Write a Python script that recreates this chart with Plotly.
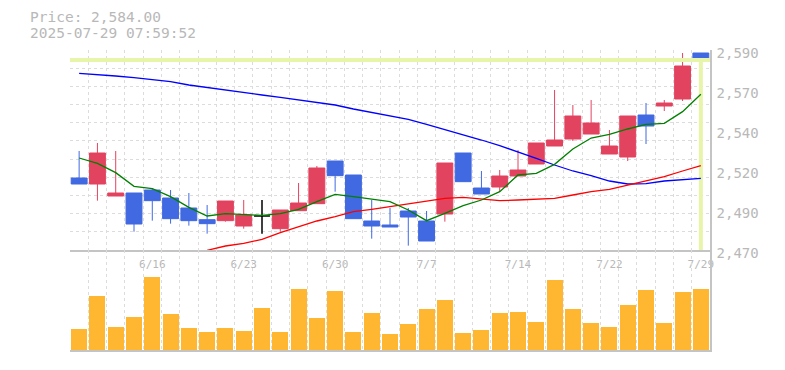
import plotly.graph_objects as go

# ---------------- data ----------------
dates = ["6/10", "6/11", "6/12", "6/13",
         "6/16", "6/17", "6/18", "6/19", "6/20",
         "6/23", "6/24", "6/25", "6/26", "6/27",
         "6/30", "7/1", "7/2", "7/3", "7/4",
         "7/7", "7/8", "7/9", "7/10", "7/11",
         "7/14", "7/15", "7/16", "7/17", "7/18",
         "7/22", "7/23", "7/24", "7/25",
         "7/28", "7/29"]

open_ = [2513.2, 2509.6, 2502.4, 2504.2, 2506.0, 2501.2, 2495.2, 2488.2, 2487.6, 2484.4,
         2490.4, 2482.8, 2493.6, 2497.8, 2523.4, 2515.0, 2487.4, 2485.0, 2493.4, 2487.4,
         2491.6, 2528.2, 2507.2, 2507.8, 2514.4, 2521.6, 2532.4, 2536.6, 2539.6, 2527.6,
         2525.8, 2551.0, 2556.4, 2560.6, 2588.2]
high = [2529.4, 2534.2, 2529.4, 2504.2, 2507.0, 2506.0, 2504.2, 2497.0, 2499.4, 2500.0,
        2500.0, 2494.0, 2510.2, 2520.4, 2523.4, 2515.0, 2500.0, 2495.2, 2495.2, 2493.4,
        2522.2, 2528.2, 2517.4, 2518.0, 2530.0, 2534.2, 2566.0, 2557.0, 2560.0, 2542.0,
        2550.4, 2558.2, 2560.0, 2588.2, 2588.2]
low = [2509.6, 2499.6, 2502.4, 2481.0, 2487.6, 2485.8, 2484.6, 2479.8, 2487.0, 2482.8,
       2479.8, 2481.0, 2493.6, 2497.8, 2505.0, 2488.8, 2476.8, 2483.8, 2472.6, 2475.4,
       2487.0, 2511.0, 2503.6, 2505.0, 2514.4, 2521.6, 2532.4, 2535.4, 2539.6, 2527.6,
       2523.4, 2533.6, 2553.4, 2559.4, 2567.8]
close = [2509.6, 2528.2, 2504.2, 2485.6, 2499.6, 2488.8, 2487.6, 2485.8, 2499.4, 2491.0,
         2490.4, 2494.0, 2498.2, 2519.2, 2514.6, 2488.8, 2484.4, 2483.8, 2489.8, 2475.4,
         2522.2, 2511.0, 2503.6, 2514.4, 2518.0, 2534.2, 2536.0, 2550.4, 2546.2, 2532.4,
         2550.4, 2544.4, 2558.2, 2580.4, 2584.0]

ma_short = [2525.2, 2522.0, 2516.4, 2508.2, 2506.8, 2502.0, 2495.6, 2490.4, 2491.8, 2491.2,
            2490.8, 2491.8, 2494.4, 2499.0, 2503.4, 2502.0, 2500.6, 2499.0, 2494.0, 2487.6,
            2492.0, 2496.6, 2500.0, 2505.0, 2515.0, 2516.0, 2521.4, 2530.6, 2537.2, 2539.4,
            2542.6, 2545.4, 2546.0, 2553.0, 2563.4]
ma_mid = [None, None, None, None, None, None, None, 2469.8, 2472.4, 2474.0,
          2476.4, 2480.4, 2484.0, 2487.4, 2490.0, 2493.0, 2494.4, 2496.0, 2497.4, 2499.0,
          2501.0, 2501.6, 2500.4, 2499.6, 2500.0, 2500.4, 2501.0, 2503.0, 2505.0, 2506.4,
          2509.0, 2511.4, 2514.0, 2517.4, 2520.6]
ma_long = [2576.0, 2575.4, 2574.4, 2573.4, 2572.4, 2571.0, 2569.0, 2567.4, 2566.0, 2564.6,
           2563.0, 2561.6, 2560.0, 2558.4, 2557.0, 2554.6, 2552.6, 2550.4, 2548.4, 2545.4,
           2542.4, 2539.4, 2536.0, 2532.6, 2529.0, 2525.0, 2521.0, 2517.4, 2514.6, 2511.4,
           2509.6, 2509.8, 2511.4, 2512.0, 2513.0]

volume = [21, 54, 23, 33, 73, 36, 22, 18, 22, 19,
          42, 18, 61, 32, 59, 18, 37, 16, 26, 41,
          50, 17, 20, 37, 38, 28, 70, 41, 27, 23,
          45, 60, 27, 58, 61]

tick_labels = ["6/16", "6/23", "6/30", "7/7", "7/14", "7/22", "7/29"]
y_ticks = [2470, 2494, 2518, 2542, 2566, 2590]
timestamp = "2025-07-29 07:59:52"

# ---------------- styling ----------------
FONT = "DejaVu Sans Mono"
TXT = "#b8b8b8"
GRID = "#dcdcdc"
AXIS = "#c4c4c4"
UP = "#e2435f"
DOWN = "#4169e1"
VOL = "#ffb732"
CROSS = "#e6f5aa"

n = len(dates)
idx = list(range(n))
ymin, ymax = y_ticks[0], y_ticks[-1]
last = n - 1

fig = go.Figure()

# current price crosshair (drawn first, under candles)
fig.add_trace(go.Scatter(x=[-0.5, n - 0.5], y=[close[last], close[last]], mode="lines",
                         line=dict(color=CROSS, width=4), xaxis="x", yaxis="y",
                         hoverinfo="skip"))
fig.add_trace(go.Scatter(x=[last, last], y=[ymin, close[last]], mode="lines",
                         line=dict(color=CROSS, width=4), xaxis="x", yaxis="y",
                         hoverinfo="skip"))

normal = [i for i in idx if open_[i] != close[i]]
doji = [i for i in idx if open_[i] == close[i]]

fig.add_trace(go.Candlestick(
    x=normal,
    open=[open_[i] for i in normal], high=[high[i] for i in normal],
    low=[low[i] for i in normal], close=[close[i] for i in normal],
    increasing=dict(line=dict(color=UP, width=1), fillcolor=UP),
    decreasing=dict(line=dict(color=DOWN, width=1), fillcolor=DOWN),
    whiskerwidth=0, xaxis="x", yaxis="y", hoverinfo="skip"))
if doji:
    fig.add_trace(go.Candlestick(
        x=doji,
        open=[open_[i] for i in doji], high=[high[i] for i in doji],
        low=[low[i] for i in doji], close=[close[i] for i in doji],
        increasing=dict(line=dict(color="#000000", width=1.5), fillcolor="#000000"),
        decreasing=dict(line=dict(color="#000000", width=1.5), fillcolor="#000000"),
        whiskerwidth=0, xaxis="x", yaxis="y", hoverinfo="skip"))

for vals, col in [(ma_long, "#0000ff"), (ma_mid, "#ff0000"), (ma_short, "#008000")]:
    fig.add_trace(go.Scatter(x=idx, y=vals, mode="lines",
                             line=dict(color=col, width=1.3),
                             xaxis="x", yaxis="y", hoverinfo="skip"))

fig.add_trace(go.Bar(x=idx, y=volume, width=0.87, marker=dict(color=VOL, line=dict(width=0)),
                     xaxis="x2", yaxis="y2", hoverinfo="skip"))

minor_x = dict(tickmode="array", tickvals=[i - 0.5 for i in range(n + 1)],
               showgrid=True, gridcolor=GRID, gridwidth=1, griddash="3px,3px", ticks="")

# page body has an 8px margin: figure is 777x362 so it fills the 785x370 window
fig.update_layout(
    width=777, height=362,
    margin=dict(l=62, r=75, t=42, b=20, autoexpand=False),
    paper_bgcolor="white", plot_bgcolor="white",
    showlegend=False,
    boxgap=0.13, boxgroupgap=0,
    bargap=0,
    font=dict(family=FONT, color=TXT),
    xaxis=dict(domain=[0, 1], range=[-0.5, n - 0.5], anchor="y",
               tickmode="array", tickvals=[dates.index(t) for t in tick_labels],
               ticktext=tick_labels, showgrid=False, minor=minor_x,
               showline=True, linecolor=AXIS, linewidth=1.5,
               ticks="outside", ticklen=3, tickcolor="rgba(0,0,0,0)",
               tickfont=dict(family=FONT, size=11, color=TXT),
               rangeslider=dict(visible=False), zeroline=False, fixedrange=True),
    yaxis=dict(domain=[1 / 3, 1], range=[ymin, ymax], side="right", anchor="x",
               tickmode="array", tickvals=y_ticks,
               ticktext=[f"{round(v, -1):,.0f}" for v in y_ticks],
               showgrid=False,
               minor=dict(tickmode="array",
                          tickvals=[ymin + k * (ymax - ymin) / 11 for k in range(12)],
                          showgrid=True, gridcolor=GRID, gridwidth=1,
                          griddash="3px,3px", ticks=""),
               showline=True, linecolor=AXIS, linewidth=1.5,
               ticks="outside", ticklen=2, tickcolor="rgba(0,0,0,0)",
               ticklabelshift=3,
               tickfont=dict(family=FONT, size=14, color=TXT),
               zeroline=False, fixedrange=True),
    xaxis2=dict(domain=[0, 1], range=[-0.5, n - 0.5], anchor="y2", matches="x",
                showticklabels=False, showgrid=False, minor=minor_x,
                showline=True, linecolor=AXIS, linewidth=1.5, ticks="",
                zeroline=False, fixedrange=True),
    yaxis2=dict(domain=[0, 1 / 3], range=[0, 100], side="right", anchor="x2",
                showticklabels=False, showgrid=False, showline=True,
                linecolor=AXIS, linewidth=1.5, ticks="", zeroline=False,
                fixedrange=True),
    annotations=[
        dict(xref="paper", yref="paper", x=-42 / 640, y=(300 + 42 - 9) / 300,
             xanchor="left", yanchor="middle", showarrow=False,
             text=f"Price: {close[last]:,.2f}",
             font=dict(family=FONT, size=14.5, color=TXT)),
        dict(xref="paper", yref="paper", x=-42 / 640, y=(300 + 42 - 25) / 300,
             xanchor="left", yanchor="middle", showarrow=False,
             text=timestamp, font=dict(family=FONT, size=14.5, color=TXT)),
    ],
)

fig.write_html("out.html")
